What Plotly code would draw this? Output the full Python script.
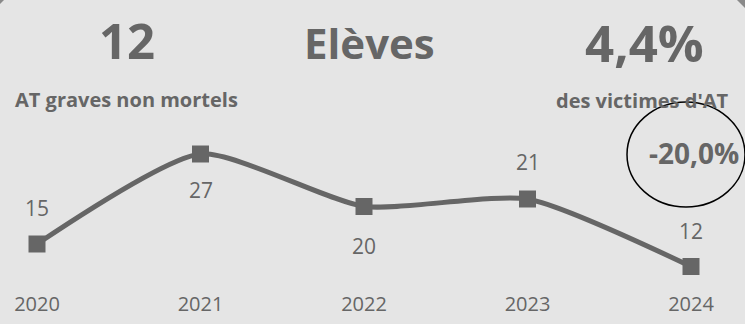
import plotly.graph_objects as go

years = [2020, 2021, 2022, 2023, 2024]
values = [15, 27, 20, 21, 12]
label_shift = [36, -36, -39, 37, 36]  # up (+) / down (-) in px
kpi_value = "12"
kpi_title = "Elèves"
kpi_share = "4,4%"
kpi_left_label = "AT graves non mortels"
kpi_right_label = "des victimes d'AT"
kpi_change = "-20,0%"

W, H = 745, 324
BOTTOM = 44
PH = H - BOTTOM
GREY = "#666666"
BG = "#E5E5E5"
FONT = "Open Sans"

def px(p):
    return p / W

def py(p):
    return 1 - p / PH

fig = go.Figure()
fig.add_trace(go.Scatter(
    x=years, y=values, mode="lines+markers",
    line=dict(color=GREY, width=5, shape="spline", smoothing=0.6),
    marker=dict(symbol="square", size=17, color=GREY),
    hoverinfo="skip", showlegend=False,
))

annotations = []
for x, v, s in zip(years, values, label_shift):
    annotations.append(dict(x=x, y=v, xref="x", yref="y", text=str(v), showarrow=False,
                            xanchor="center", yanchor="middle",
                            yshift=s, font=dict(family=FONT, size=21, color=GREY)))

def txt(x, y, text, size, anchor="center"):
    return dict(x=px(x), y=py(y), xref="paper", yref="paper", text=f"<b>{text}</b>",
                showarrow=False, xanchor=anchor, yanchor="middle",
                font=dict(family=FONT, size=size, color=GREY))

annotations += [
    txt(127, 40, kpi_value, 49),
    txt(369, 42, kpi_title, 42),
    txt(644, 42, kpi_share, 51),
    txt(13, 99, kpi_left_label, 20, "left"),
    txt(731, 100, kpi_right_label, 20, "right"),
    txt(694, 153, kpi_change, 28),
]

shapes = [
    dict(type="circle", xref="paper", yref="paper",
         x0=px(627), x1=px(745), y0=py(207), y1=py(102),
         line=dict(color="black", width=1.5)),
    dict(type="path", xref="paper", yref="paper",
         path=f"M {px(0)},{py(0)} L {px(4)},{py(0)} L {px(0)},{py(4)} Z",
         fillcolor="#8a8a8a", line=dict(width=0)),
    dict(type="path", xref="paper", yref="paper",
         path=f"M {px(737)},{py(0)} L {px(745)},{py(0)} L {px(745)},{py(8)} Z",
         fillcolor="#8a8a8a", line=dict(width=0)),
]

x0 = 2020 - 37 / 163.5
x1 = x0 + W / 163.5
y_top = 27 + 154 / 7.5
y_bot = 27 - 126 / 7.5

fig.update_layout(
    width=W, height=H,
    margin=dict(l=0, r=0, t=0, b=BOTTOM),
    paper_bgcolor=BG, plot_bgcolor=BG,
    annotations=annotations, shapes=shapes,
    xaxis=dict(range=[x0, x1], tickvals=years, ticktext=[str(y) for y in years],
               showgrid=False, zeroline=False, showline=False, ticks="",
               ticklabelstandoff=10,
               tickfont=dict(family=FONT, size=20, color=GREY), fixedrange=True),
    yaxis=dict(range=[y_bot, y_top], visible=False, fixedrange=True),
)

fig.write_html("out.html", config={"displayModeBar": False},
               post_script="document.body.style.margin='0';")
